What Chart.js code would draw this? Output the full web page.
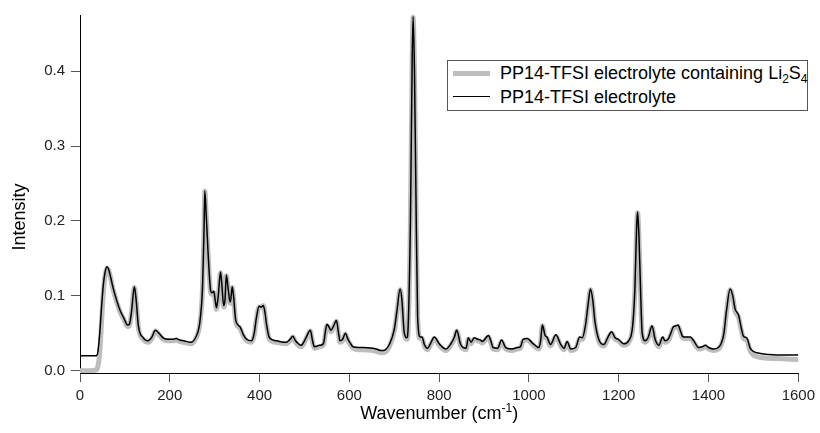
<!DOCTYPE html>
<html>
<head>
<meta charset="utf-8">
<script src="https://cdn.jsdelivr.net/npm/chart.js@4.4.0/dist/chart.umd.min.js"></script>
<style>
  html, body { margin: 0; padding: 0; background: #fff; }
  #wrap { position: relative; width: 820px; height: 433px; }
  #legend {
    position: absolute; left: 447px; top: 60px; width: 361px; height: 51px;
    box-sizing: border-box; border: 1px solid #555; background: #fff;
    font-family: "Liberation Sans", Arial, sans-serif; font-size: 18px; color: #000;
  }
  .row { position: absolute; left: 0; width: 100%; height: 24px; line-height: 24px; }
  .swatch { position: absolute; left: 5px; width: 37px; }
  .label { position: absolute; left: 52px; white-space: nowrap; }
  sub { font-size: 12px; vertical-align: -4px; line-height: 0; }
</style>
</head>
<body>
<div id="wrap">
  <canvas id="ramanChart" width="820" height="433"></canvas>
  <div id="legend">
    <div class="row" style="top:0">
      <div class="swatch" style="top:10px;height:5px;background:#bdbdbd"></div>
      <span class="label">PP14-TFSI electrolyte containing Li<sub>2</sub>S<sub>4</sub></span>
    </div>
    <div class="row" style="top:24px">
      <div class="swatch" style="top:11px;height:0;border-top:1.5px solid #000"></div>
      <span class="label">PP14-TFSI electrolyte</span>
    </div>
  </div>
</div>
<script>
// Wavenumber (cm-1) sample positions
const wavenumber = [
  0, 20, 36, 40, 44, 48, 52, 56, 60, 64,
  74, 89, 98, 106, 110, 115, 121, 125, 130, 141,
  152, 160, 168, 176, 185, 197, 208, 214, 222, 230,
  248, 259, 264, 267, 271, 273, 276, 278, 281, 285,
  291, 294, 298, 301, 304, 308, 313, 316, 320, 323,
  326, 329, 333, 335, 339, 342, 347, 356, 364, 371,
  382, 388, 393, 399, 404, 408, 412, 415, 422, 437,
  459, 468, 474, 480, 493, 500, 504, 513, 518, 522,
  534, 542, 550, 555, 559, 565, 571, 576, 579, 585,
  591, 597, 601, 608, 622, 630, 652, 660, 671, 680,
  689, 700, 706, 713, 717, 722, 728, 731, 736, 740,
  742, 745, 748, 752, 758, 762, 767, 774, 782, 789,
  800, 815, 825, 834, 839, 848, 860, 865, 871, 878,
  886, 892, 896, 910, 915, 920, 930, 939, 948, 963,
  974, 981, 987, 996, 1008, 1022, 1026, 1030, 1036, 1040,
  1048, 1060, 1071, 1078, 1085, 1093, 1104, 1113, 1119, 1126,
  1132, 1137, 1142, 1147, 1156, 1167, 1176, 1184, 1192, 1199,
  1211, 1222, 1231, 1236, 1240, 1242, 1245, 1249, 1252, 1259,
  1266, 1274, 1281, 1289, 1298, 1303, 1311, 1316, 1322, 1328,
  1332, 1337, 1342, 1348, 1359, 1367, 1378, 1386, 1393, 1400,
  1411, 1422, 1428, 1434, 1440, 1448, 1454, 1459, 1467, 1472,
  1478, 1485, 1493, 1500, 1508, 1526, 1563, 1600
];

// PP14-TFSI electrolyte (black line)
const intensityTFSI = [
  0.020, 0.020, 0.020, 0.026, 0.050, 0.085, 0.115, 0.132, 0.139, 0.135,
  0.110, 0.081, 0.070, 0.061, 0.062, 0.080, 0.112, 0.095, 0.060, 0.044,
  0.040, 0.045, 0.054, 0.050, 0.044, 0.042, 0.042, 0.043, 0.041, 0.040,
  0.038, 0.046, 0.055, 0.065, 0.090, 0.113, 0.180, 0.240, 0.210, 0.161,
  0.107, 0.104, 0.106, 0.095, 0.084, 0.100, 0.132, 0.115, 0.087, 0.095,
  0.128, 0.115, 0.095, 0.092, 0.112, 0.100, 0.067, 0.059, 0.048, 0.042,
  0.040, 0.050, 0.071, 0.086, 0.085, 0.087, 0.078, 0.064, 0.044, 0.040,
  0.038, 0.042, 0.046, 0.040, 0.034, 0.040, 0.045, 0.054, 0.040, 0.032,
  0.034, 0.036, 0.062, 0.058, 0.054, 0.060, 0.067, 0.050, 0.040, 0.042,
  0.050, 0.042, 0.038, 0.032, 0.031, 0.031, 0.030, 0.029, 0.027, 0.028,
  0.035, 0.055, 0.080, 0.109, 0.095, 0.052, 0.044, 0.060, 0.200, 0.420,
  0.473, 0.400, 0.250, 0.072, 0.045, 0.045, 0.035, 0.030, 0.038, 0.045,
  0.036, 0.029, 0.035, 0.045, 0.054, 0.035, 0.030, 0.044, 0.038, 0.044,
  0.042, 0.041, 0.039, 0.047, 0.040, 0.031, 0.030, 0.041, 0.031, 0.029,
  0.031, 0.032, 0.042, 0.043, 0.037, 0.031, 0.040, 0.061, 0.047, 0.045,
  0.035, 0.048, 0.035, 0.030, 0.039, 0.029, 0.031, 0.045, 0.044, 0.061,
  0.090, 0.109, 0.095, 0.066, 0.041, 0.035, 0.045, 0.052, 0.044, 0.042,
  0.036, 0.040, 0.060, 0.110, 0.195, 0.212, 0.180, 0.100, 0.052, 0.040,
  0.045, 0.060, 0.042, 0.034, 0.045, 0.040, 0.043, 0.050, 0.059, 0.060,
  0.061, 0.054, 0.046, 0.045, 0.045, 0.040, 0.031, 0.032, 0.034, 0.031,
  0.029, 0.031, 0.036, 0.049, 0.080, 0.109, 0.100, 0.083, 0.074, 0.060,
  0.046, 0.044, 0.030, 0.026, 0.024, 0.022, 0.021, 0.021
];

// PP14-TFSI electrolyte containing Li2S4 (thick grey line)
const intensityLi2S4 = [
  0.000, 0.000, 0.001, 0.006, 0.025, 0.065, 0.105, 0.128, 0.137, 0.134,
  0.108, 0.079, 0.068, 0.059, 0.060, 0.078, 0.111, 0.093, 0.058, 0.042,
  0.038, 0.043, 0.053, 0.048, 0.042, 0.040, 0.040, 0.041, 0.039, 0.038,
  0.036, 0.044, 0.053, 0.063, 0.088, 0.111, 0.178, 0.240, 0.208, 0.159,
  0.105, 0.102, 0.104, 0.093, 0.082, 0.098, 0.131, 0.113, 0.085, 0.093,
  0.127, 0.113, 0.093, 0.090, 0.111, 0.098, 0.065, 0.057, 0.046, 0.040,
  0.038, 0.048, 0.069, 0.085, 0.085, 0.087, 0.076, 0.062, 0.042, 0.038,
  0.036, 0.040, 0.045, 0.038, 0.032, 0.038, 0.043, 0.053, 0.038, 0.030,
  0.032, 0.034, 0.060, 0.057, 0.052, 0.059, 0.066, 0.048, 0.038, 0.040,
  0.049, 0.040, 0.036, 0.030, 0.028, 0.028, 0.027, 0.026, 0.024, 0.025,
  0.032, 0.053, 0.078, 0.108, 0.093, 0.050, 0.042, 0.058, 0.198, 0.418,
  0.472, 0.398, 0.248, 0.070, 0.043, 0.043, 0.033, 0.028, 0.036, 0.043,
  0.034, 0.027, 0.033, 0.043, 0.053, 0.033, 0.028, 0.042, 0.036, 0.042,
  0.040, 0.039, 0.037, 0.045, 0.038, 0.029, 0.028, 0.039, 0.029, 0.027,
  0.029, 0.030, 0.040, 0.041, 0.035, 0.029, 0.038, 0.060, 0.045, 0.043,
  0.033, 0.046, 0.033, 0.028, 0.037, 0.027, 0.029, 0.043, 0.042, 0.059,
  0.088, 0.108, 0.093, 0.064, 0.039, 0.033, 0.043, 0.050, 0.042, 0.040,
  0.034, 0.038, 0.058, 0.108, 0.193, 0.211, 0.178, 0.098, 0.050, 0.038,
  0.043, 0.058, 0.040, 0.032, 0.043, 0.038, 0.041, 0.048, 0.057, 0.058,
  0.059, 0.052, 0.044, 0.043, 0.043, 0.038, 0.029, 0.030, 0.032, 0.029,
  0.027, 0.029, 0.034, 0.047, 0.078, 0.108, 0.098, 0.080, 0.071, 0.057,
  0.043, 0.041, 0.026, 0.021, 0.019, 0.017, 0.016, 0.015
];

const xTicks = [0, 200, 400, 600, 800, 1000, 1200, 1400, 1600];
const yTicks = [0.0, 0.1, 0.2, 0.3, 0.4];

const FONT = '"Liberation Sans", Arial, sans-serif';

// axis titles drawn by hand so they can sit where the original has them
const axisTitles = {
  id: 'axisTitles',
  afterDraw(chart) {
    const c = chart.ctx;
    const area = chart.chartArea;
    c.save();
    c.fillStyle = '#000';
    c.font = '18px ' + FONT;
    c.textBaseline = 'middle';
    c.textAlign = 'center';
    c.translate(20, 217);
    c.rotate(-Math.PI / 2);
    c.fillText('Intensity', 0, 0);
    c.restore();

    // Wavenumber (cm^-1)
    c.save();
    c.fillStyle = '#000';
    c.textBaseline = 'alphabetic';
    c.textAlign = 'left';
    const main = 'Wavenumber (cm', sup = '-1', close = ')';
    c.font = '18px ' + FONT;
    const w1 = c.measureText(main).width, w3 = c.measureText(close).width;
    c.font = '12px ' + FONT;
    const w2 = c.measureText(sup).width;
    let x = (area.left + area.right) / 2 - (w1 + w2 + w3) / 2;
    const base = 419;
    c.font = '18px ' + FONT;
    c.fillText(main, x, base);
    x += w1;
    c.font = '12px ' + FONT;
    c.fillText(sup, x, base - 7);
    x += w2;
    c.font = '18px ' + FONT;
    c.fillText(close, x, base);
    c.restore();
  }
};

const ctx = document.getElementById('ramanChart').getContext('2d');

new Chart(ctx, {
  type: 'line',
  data: {
    datasets: [
      {
        label: 'PP14-TFSI electrolyte containing Li2S4',
        data: wavenumber.map((x, i) => ({ x: x, y: intensityLi2S4[i] })),
        borderColor: '#bdbdbd',
        borderWidth: 5,
        borderJoinStyle: 'round',
        pointRadius: 0,
        cubicInterpolationMode: 'monotone',
        order: 2
      },
      {
        label: 'PP14-TFSI electrolyte',
        data: wavenumber.map((x, i) => ({ x: x, y: intensityTFSI[i] })),
        borderColor: '#000',
        borderWidth: 1.5,
        pointRadius: 0,
        cubicInterpolationMode: 'monotone',
        order: 1
      }
    ]
  },
  options: {
    responsive: false,
    animation: false,
    layout: { padding: { top: 15, right: 20, left: 0, bottom: 0 } },
    plugins: {
      legend: { display: false },
      tooltip: { enabled: false }
    },
    scales: {
      x: {
        type: 'linear',
        min: 0,
        max: 1600,
        afterBuildTicks: s => { s.ticks = xTicks.map(v => ({ value: v })); },
        afterFit: s => { s.height = 60; },
        grid: { drawOnChartArea: false, drawTicks: true, tickLength: 9, tickColor: '#555' },
        border: { display: true, color: '#000', width: 1 },
        ticks: {
          font: { family: FONT, size: 15 },
          color: '#222',
          padding: 5,
          maxRotation: 0,
          callback: v => String(v)
        }
      },
      y: {
        type: 'linear',
        min: -0.003,
        max: 0.475,
        afterBuildTicks: s => { s.ticks = yTicks.map(v => ({ value: v })); },
        afterFit: s => { s.width = 80; },
        grid: { drawOnChartArea: false, drawTicks: true, tickLength: 9, tickColor: '#555' },
        border: { display: true, color: '#000', width: 1 },
        ticks: {
          font: { family: FONT, size: 15 },
          color: '#222',
          padding: 6,
          callback: v => v.toFixed(1)
        }
      }
    }
  },
  plugins: [axisTitles]
});
</script>
</body>
</html>
